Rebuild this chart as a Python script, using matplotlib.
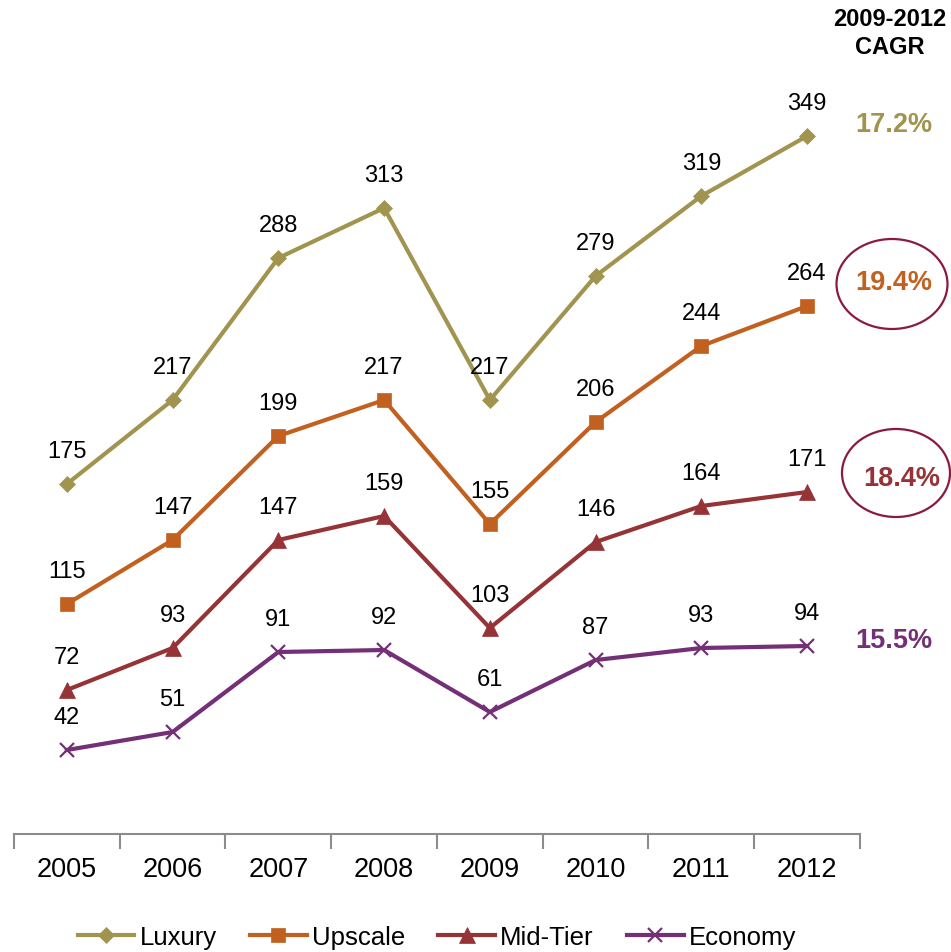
import matplotlib
matplotlib.use("Agg")
import matplotlib.pyplot as plt
from matplotlib.patches import Ellipse

plt.rcParams['font.family'] = ['Liberation Sans', 'DejaVu Sans']

years = ["2005", "2006", "2007", "2008", "2009", "2010", "2011", "2012"]
luxury = [175, 217, 288, 313, 217, 279, 319, 349]
upscale = [115, 147, 199, 217, 155, 206, 244, 264]
mid_tier = [72, 93, 147, 159, 103, 146, 164, 171]
economy = [42, 51, 91, 92, 61, 87, 93, 94]
series_names = ["Luxury", "Upscale", "Mid-Tier", "Economy"]
cagr = ["17.2%", "19.4%", "18.4%", "15.5%"]

colors = ["#A0944F", "#C1601F", "#953336", "#733076"]
markers = ["D", "s", "^", "x"]
msizes = [8, 10.5, 11, 10]

fig = plt.figure(figsize=(9.51, 9.53), dpi=100)
ax = fig.add_axes([0.0147, 0.1238, 0.8896, 0.8395])

x = list(range(len(years)))
for vals, name, c, m, ms in zip([luxury, upscale, mid_tier, economy],
                                series_names, colors, markers, msizes):
    ax.plot(x, vals, color=c, lw=3, marker=m, markersize=ms,
            markeredgewidth=1.6 if m == "x" else 0.5, markeredgecolor=c,
            markerfacecolor=c, label=name, solid_joinstyle="miter")
    for xi, v in zip(x, vals):
        ax.annotate(str(v), (xi, v), xytext=(0, 24), textcoords="offset points",
                    ha="center", va="center", fontsize=17, color="black")

ax.set_xlim(-0.5, 7.5)
ax.set_ylim(0, 400)
ax.set_yticks([])
for s in ["left", "right", "top"]:
    ax.spines[s].set_visible(False)
ax.spines["bottom"].set_color("#8C8C8C")
ax.spines["bottom"].set_linewidth(1.5)

ax.set_xticks([i - 0.5 for i in range(len(years) + 1)])
ax.set_xticklabels([])
ax.tick_params(axis="x", which="major", length=11, width=1.5, color="#8C8C8C",
               direction="out")
ax.set_xticks(x, minor=True)
ax.set_xticklabels(years, minor=True, fontsize=19.5)
ax.tick_params(axis="x", which="minor", length=0, pad=16)

# CAGR column on the right
fig.text(890 / 951, 1 - 20 / 953, "2009-2012", ha="center", va="center",
         fontsize=17, fontweight="bold")
fig.text(890 / 951, 1 - 48 / 953, "CAGR", ha="center", va="center",
         fontsize=17, fontweight="bold")
cagr_pos = [(894, 125), (894, 283), (902, 479), (894, 641)]
for (px, py), txt, c in zip(cagr_pos, cagr, colors):
    fig.text(px / 951, 1 - py / 953, txt, ha="center", va="center",
             fontsize=19.5, fontweight="bold", color=c)

for (cx, cy, w, h) in [(892, 285, 111, 90), (896, 474, 108, 88)]:
    e = Ellipse((cx / 951, 1 - cy / 953), w / 951, h / 953,
                transform=fig.transFigure, fill=False,
                edgecolor="#8B1A3F", lw=1.6)
    fig.add_artist(e)

leg = fig.legend(loc="center", bbox_to_anchor=(437 / 951, 1 - 938 / 953),
                 ncol=4, frameon=False, fontsize=18.5, handlelength=2.2,
                 handletextpad=0.2, columnspacing=1.3)

fig.savefig("out.png", dpi=100)
